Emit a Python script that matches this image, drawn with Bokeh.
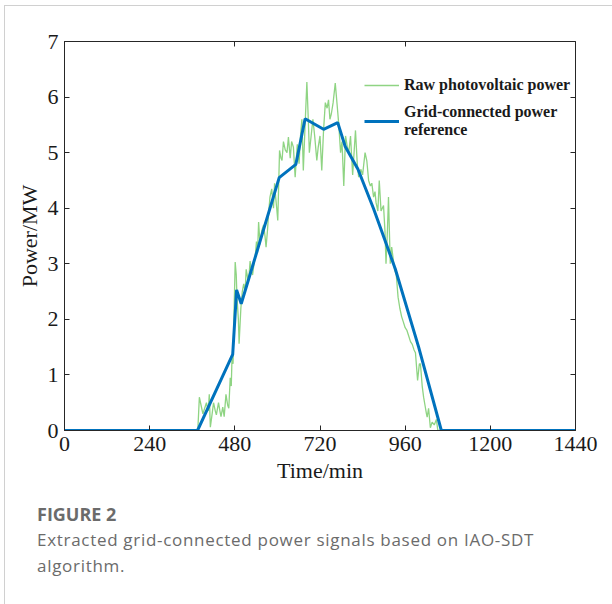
from bokeh.plotting import figure
from bokeh.models import LinearAxis, FixedTicker, Legend, LegendItem, Div, Range1d
from bokeh.layouts import column
from bokeh.embed import file_html
from bokeh.resources import INLINE

# ---- data ----
raw_time = [0, 372, 376, 380, 385, 390, 395, 400, 405, 408, 411, 416, 420, 425, 428, 434, 438, 441,
            446, 450, 455, 460, 463, 467, 470, 472, 475, 477, 481, 484, 486, 490, 492, 497, 501,
            505, 509, 512, 516, 519, 523, 527, 530, 534, 537, 541, 544, 547, 551, 556, 561, 565,
            568, 572, 575, 579, 584, 589, 592, 595, 598, 601, 606, 610, 613, 617, 622, 627, 631,
            636, 640, 645, 650, 656, 661, 665, 669, 673, 678, 683, 687, 690, 695, 700, 705, 711,
            715, 720, 725, 730, 735, 740, 744, 748, 752, 757, 763, 768, 773, 778, 782, 787, 792,
            797, 801, 806, 812, 816, 820, 825, 829, 835, 840, 847, 852, 857, 862, 866, 871, 875,
            878, 883, 887, 892, 899, 903, 906, 910, 913, 918, 922, 926, 930, 935, 940, 945, 950,
            955, 960, 965, 970, 975, 980, 985, 989, 995, 1000, 1003, 1008, 1012, 1016, 1020,
            1022, 1026, 1031, 1036, 1042, 1048, 1052, 1440]
raw_power = [0, 0, 0.05, 0.6, 0.45, 0.3, 0.4, 0.5, 0.35, 0.65, 0.06, 0.3, 0.5, 0.35, 0.28, 0.5, 0.35, 0.25,
             0.42, 0.25, 0.65, 0.45, 0.4, 0.95, 0.8, 1.3, 1.2, 1.9, 3.03, 2.8, 2.4, 2.0, 1.56, 2.2, 2.5,
             2.64, 2.5, 2.9, 2.75, 2.7, 3.05, 2.85, 2.8, 3.0, 3.1, 3.4, 3.2, 3.75, 3.35, 3.6, 3.7, 3.5,
             3.3, 3.6, 3.9, 4.2, 4.35, 4.0, 4.45, 4.2, 4.0, 3.78, 5.04, 4.9, 4.86, 5.2, 5.05, 5.0, 5.28,
             4.9, 5.2, 5.1, 4.56, 5.15, 4.8, 5.3, 5.6, 4.68, 5.5, 6.27, 5.6, 5.0, 5.3, 5.6, 5.3, 4.86,
             5.1, 5.3, 4.68, 5.4, 5.9, 5.8, 5.95, 5.6, 5.7, 5.9, 6.25, 5.88, 5.5, 5.0, 5.2, 4.4, 5.3,
             5.1, 5.0, 5.3, 4.6, 5.0, 5.4, 4.8, 4.56, 4.7, 4.6, 5.0, 4.85, 4.5, 4.4, 4.45, 4.2, 4.3,
             4.1, 3.95, 4.5, 3.95, 4.05, 3.6, 3.0, 3.6, 4.2, 3.0, 3.3, 3.1, 2.9, 2.8, 2.4, 2.2, 2.05,
             1.95, 1.85, 1.8, 1.7, 1.6, 1.55, 1.45, 1.4, 0.9, 1.2, 1.2, 0.8, 0.6, 0.45, 0.3,
             0.24, 0.4, 0.05, 0.15, 0.1, 0.2, 0.0, 0]

ref_time = [0, 375, 474, 485, 498, 605, 652, 678, 730, 770, 791, 827, 871, 932, 998, 1062, 1440]
ref_power = [0, 0, 1.37, 2.53, 2.28, 4.55, 4.79, 5.61, 5.42, 5.54, 5.11, 4.70, 3.99, 2.91, 1.5, 0, 0]

x_ticks = [0, 240, 480, 720, 960, 1200, 1440]
y_ticks = [0, 1, 2, 3, 4, 5, 6, 7]
top_ticks = [480, 960]
right_ticks = [1, 2, 3, 4, 5, 6]

series_labels = ["Raw photovoltaic power", "Grid-connected power\nreference"]
x_label = "Time/min"
y_label = "Power/MW"
caption_title = "FIGURE 2"
caption_text = "Extracted grid-connected power signals based on IAO-SDT algorithm."

# ---- styling ----
SERIF = "Liberation Serif"
AXIS_COLOR = "#262626"
GREEN = "#8fd483"
BLUE = "#0072BD"

p = figure(width=607, height=484, output_backend="svg", toolbar_location=None,
           x_range=Range1d(0, 1440), y_range=Range1d(0, 7),
           min_border_left=59, min_border_right=37, min_border_top=35, min_border_bottom=60)
p.background_fill_color = "white"
p.border_fill_color = "white"
p.outline_line_color = AXIS_COLOR
p.grid.visible = False

g = p.line(raw_time, raw_power, line_color=GREEN, line_width=1.3)
b = p.line(ref_time, ref_power, line_color=BLUE, line_width=3)

def style_axis(ax, ticks, show_labels=True):
    ax.ticker = FixedTicker(ticks=ticks)
    ax.axis_line_color = AXIS_COLOR
    ax.major_tick_line_color = AXIS_COLOR
    ax.major_tick_in = 5
    ax.major_tick_out = 0
    ax.minor_tick_line_color = None
    ax.major_label_text_font = SERIF
    ax.major_label_text_font_size = "22px"
    ax.major_label_text_color = "#1a1a1a"
    if not show_labels:
        ax.major_label_overrides = {t: "" for t in ticks}
        ax.major_label_standoff = 0
    ax.axis_label_text_font = SERIF
    ax.axis_label_text_font_size = "22px"
    ax.axis_label_text_font_style = "normal"
    ax.axis_label_text_color = "#1a1a1a"

style_axis(p.xaxis[0], x_ticks)
style_axis(p.yaxis[0], y_ticks)
p.xaxis[0].axis_label = x_label
p.yaxis[0].axis_label = y_label
p.xaxis[0].major_label_standoff = 6
p.xaxis[0].axis_label_standoff = 4
p.yaxis[0].major_label_standoff = 6
p.yaxis[0].axis_label_standoff = 3

top_ax = LinearAxis()
style_axis(top_ax, top_ticks, show_labels=False)
p.add_layout(top_ax, "above")
right_ax = LinearAxis()
style_axis(right_ax, right_ticks, show_labels=False)
p.add_layout(right_ax, "right")

legend = Legend(items=[LegendItem(label=series_labels[0], renderers=[g]),
                       LegendItem(label=series_labels[1], renderers=[b])],
                location=(300, 291))
legend.label_text_font = SERIF
legend.label_text_font_style = "bold"
legend.label_text_font_size = "16px"
legend.label_text_color = "#1a1a1a"
legend.border_line_color = None
legend.background_fill_alpha = 0
legend.glyph_width = 35
legend.label_standoff = 5
legend.spacing = 8
legend.padding = 3
legend.margin = 0
p.add_layout(legend)

caption = Div(text=(
    "<div style=\"font-family:'Open Sans',sans-serif;color:#6b6b6b;padding-left:27px;padding-top:6px;width:560px;\">"
    f"<div style='font-weight:bold;font-size:18px;line-height:26px;'>{caption_title}</div>"
    f"<div style='font-size:17px;line-height:26px;letter-spacing:0.7px;width:530px;'>{caption_text}</div>"
    "</div>"), width=607, height=108)

layout = column(p, caption, margin=(5, 0, 0, 4),
                styles={"border-top": "1px solid #d0d0d0", "border-left": "1px solid #d0d0d0"})

open("out.html", "w").write(file_html(layout, INLINE))
